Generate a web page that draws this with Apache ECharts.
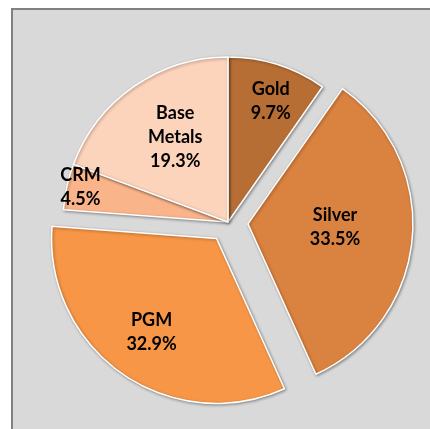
<!DOCTYPE html>
<html>
<head>
<meta charset="utf-8">
<script src="https://cdn.jsdelivr.net/npm/echarts@6/dist/echarts.min.js"></script>
<style>
  html, body { margin: 0; padding: 0; background: #ffffff; }
  #main { width: 430px; height: 429px; }
</style>
</head>
<body>
<div id="main"></div>
<script>
// metals and their shares (%)
const metals = ['Gold', 'Silver', 'PGM', 'CRM', 'Base\nMetals'];
const shares = [9.7, 33.5, 32.9, 4.5, 19.3];
const pulledOut = [false, true, true, false, false];
const sliceColors = ['#b76e34', '#da8240', '#f79646', '#f9b48a', '#fcd3bb'];
// nudges from the default inside label spot
const labelShift = [[17, -39], [2, -5], [-16, 24], [-64, -17], [-4, -15]];

const chart = echarts.init(document.getElementById('main'));

chart.setOption({
    animation: false,
    backgroundColor: '#ffffff',
    graphic: [{
        type: 'rect',
        z: -10,
        shape: { x: 12, y: 9, width: 430, height: 430 },
        style: { fill: '#d9d9d9', stroke: '#808080', lineWidth: 2 }
    }],
    series: [{
        type: 'pie',
        center: [228, 222],
        radius: 165,
        startAngle: 90,
        clockwise: true,
        selectedMode: 'multiple',
        selectedOffset: 20,
        emphasis: { disabled: true },
        itemStyle: {
            borderColor: '#ffffff',
            borderWidth: 1.5,
            shadowBlur: 3,
            shadowOffsetX: 1,
            shadowOffsetY: 1,
            shadowColor: 'rgba(0,0,0,0.35)'
        },
        label: {
            position: 'inside',
            formatter: p => p.name + '\n' + p.value.toFixed(1) + '%',
            fontFamily: 'Lato',
            fontWeight: 'bold',
            fontSize: 18,
            lineHeight: 24,
            color: '#000000'
        },
        labelLine: { show: false },
        labelLayout: p => ({ dx: labelShift[p.dataIndex][0], dy: labelShift[p.dataIndex][1] }),
        data: metals.map((m, i) => ({
            name: m,
            value: shares[i],
            selected: pulledOut[i],
            itemStyle: { color: sliceColors[i] }
        }))
    }]
});
</script>
</body>
</html>
